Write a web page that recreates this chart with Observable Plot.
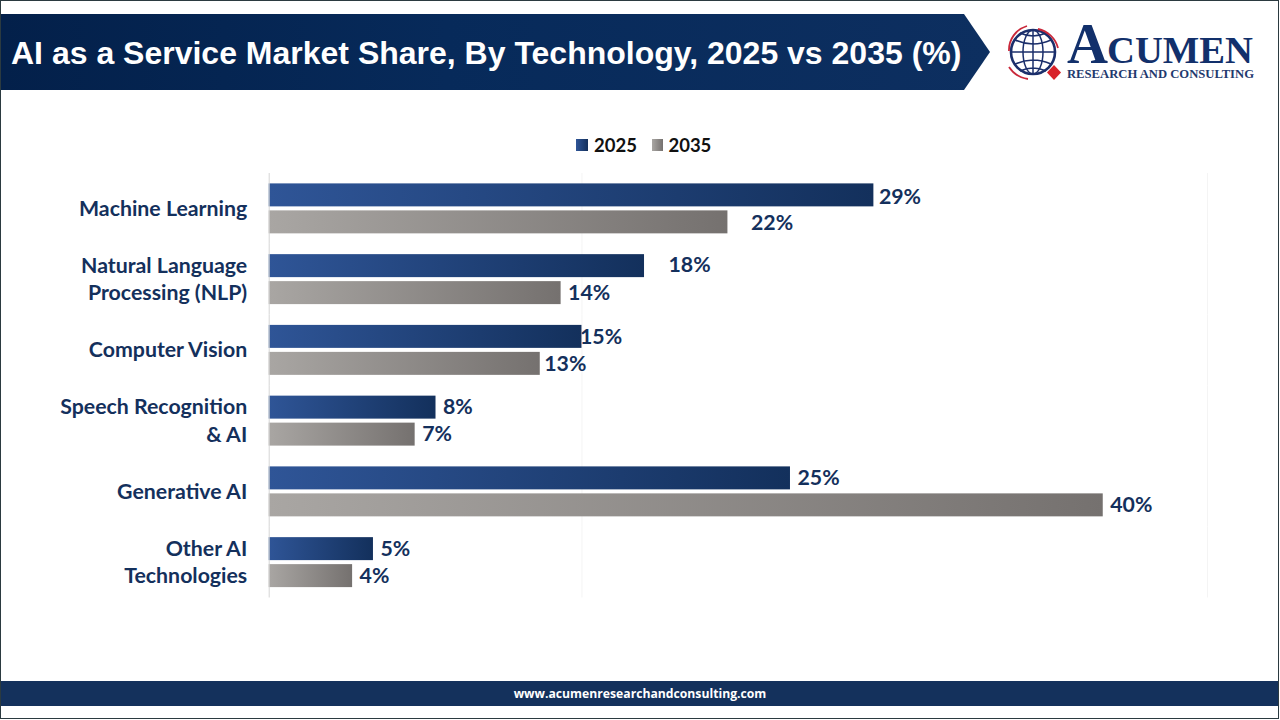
<!DOCTYPE html>
<html><head><meta charset="utf-8">
<script src="https://cdn.jsdelivr.net/npm/d3@7"></script>
<script src="https://cdn.jsdelivr.net/npm/@observablehq/plot@0.6"></script>
<style>
html,body{margin:0;padding:0;background:#fff}
#page{position:relative;width:1280px;height:720px;overflow:hidden;background:#fff;box-sizing:border-box}
#frame{position:absolute;left:0;top:0;width:1279px;height:719px;box-sizing:border-box;border:1px solid #2b3a40;border-left-width:1.5px;pointer-events:none;z-index:5}
#banner{position:absolute;left:0;top:14px}
#title{position:absolute;left:11px;top:33px;font:700 32px "Liberation Sans",Arial,sans-serif;color:#fff;white-space:nowrap;line-height:40px}
#logo{position:absolute;left:1000px;top:3px}
#legend{position:absolute;top:134px;left:576px;font:700 18.5px Lato,sans-serif;color:#111;display:flex;align-items:center;height:21px}
#legend i{display:inline-block;width:11.5px;height:12px}
#legend span{margin-right:15px}
#chart{position:absolute;left:0;top:173px}
#foot{position:absolute;left:1px;right:1px;top:681px;height:25px;background:#14315c;color:#fff;text-align:center;font:700 12.2px "Open Sans",sans-serif;line-height:25px}
</style></head><body>
<div id="page">
<svg id="banner" width="992" height="76">
<defs><linearGradient id="bg" x1="0" x2="1" y1="0" y2="0">
<stop offset="0" stop-color="#03204a"/><stop offset=".45" stop-color="#072a5a"/><stop offset="1" stop-color="#0d2f60"/></linearGradient></defs>
<polygon points="1,0 964,0 990,38 964,76 1,76" fill="url(#bg)"/>
</svg>
<div id="title">AI as a Service Market Share, By Technology, 2025 vs 2035 (%)</div>
<svg id="logo" width="270" height="87" viewBox="0 -12 270 87">
<g fill="none" stroke="#1b2f6b" stroke-width="1.5">
<circle cx="33" cy="37" r="22" stroke-width="2.6"/>
<ellipse cx="33" cy="37" rx="10" ry="22"/>
<path d="M33 15V59M11 37H55M15 25Q33 33 51 25M15 49Q33 41 51 49M20 18Q33 24 46 18M20 56Q33 50 46 56"/>
</g>
<g fill="none" stroke="#c9283a" stroke-width="1.8">
<path d="M9 36A25 25 0 0 1 27 11"/><path d="M38 14A26 26 0 0 1 58 33"/><path d="M9 52A27 27 0 0 0 28 64"/>
</g>
<polygon points="54,50 61,57.5 54,65 47,57.5" fill="#d8232a"/>
<text x="67" y="48" font-family="Liberation Serif" font-weight="700" font-size="57" fill="#12306b" textLength="41" lengthAdjust="spacingAndGlyphs">A</text>
<text x="107" y="48" font-family="Liberation Serif" font-weight="700" font-size="38" fill="#12306b" textLength="146" lengthAdjust="spacingAndGlyphs">CUMEN</text>
<text x="67" y="63" font-family="Liberation Serif" font-weight="700" font-size="12" fill="#1f3a6e" textLength="187" lengthAdjust="spacingAndGlyphs">RESEARCH AND CONSULTING</text>
</svg>
<div id="legend"><i style="background:linear-gradient(90deg,#2f5597,#14305c);margin-right:6.5px"></i><span>2025</span><i style="background:linear-gradient(90deg,#a9a6a3,#75716f);margin-right:5px"></i><span>2035</span></div>
<div id="chart"></div>
<div id="foot">www.acumenresearchandconsulting.com</div>
<div id="frame"></div>
</div>
<script>
const categories = ["Machine Learning","Natural Language\nProcessing (NLP)","Computer Vision","Speech Recognition\n& AI","Generative AI","Other AI\nTechnologies"];
const values2025 = [29,18,15,8,25,5];
const values2035 = [22,14,13,7,40,4];
const years = ["2025","2035"];
const rows = categories.flatMap((c,i)=>[
  {category:c,year:years[0],value:values2025[i]},
  {category:c,year:years[1],value:values2035[i]}
]);
const defs = () => {
  const s = d3.create("svg:defs");
  const g = (id,a,b)=>{const l=s.append("linearGradient").attr("id",id);
    l.append("stop").attr("offset",0).attr("stop-color",a);
    l.append("stop").attr("offset",1).attr("stop-color",b);};
  g("g2025","#2f5597","#13305c");
  g("g2035","#a9a6a3","#75716f");
  return s.node();
};
const labelFont = {fontFamily:"Lato, sans-serif",fontWeight:700,fontSize:21.3,fill:"#14305c"};
const labels = (test,dx,dy=0) => Plot.text(rows.filter(test),{
  fy:"category",y:"year",x:"value",text:d=>d.value+"%",textAnchor:"start",dx,dy,...labelFont});
const chart = Plot.plot({
  width:1280,height:424.5,
  marginLeft:268.7,marginRight:73,marginTop:0,marginBottom:0,
  style:{background:"transparent",overflow:"visible"},
  x:{domain:[0,45],axis:null},
  y:{domain:years,axis:null,round:false,paddingInner:4/27,paddingOuter:0.385},
  fy:{domain:categories,padding:0,round:false,axis:null,label:null},
  marks:[
    defs,
    Plot.gridX([15,45],{stroke:"#f4f4f4",strokeOpacity:1}),
    Plot.barX(rows,{fy:"category",y:"year",x:"value",fill:d=>`url(#g${d.year})`}),
    Plot.ruleX([0],{stroke:"#d5d5d5"}),
    labels(d=>![29,22,18,15,13].includes(d.value),7),
    labels(d=>d.value===29,5,2),
    labels(d=>d.value===22,23,1),
    labels(d=>d.value===18,24,-1),
    labels(d=>d.value===15,-2),
    labels(d=>d.value===13,4),
    Plot.axisFy({anchor:"left",tickSize:0,tickPadding:22,label:null,dy:-2,
      fontFamily:"Lato, sans-serif",fontWeight:700,fontSize:21.3,fill:"#14305c",lineHeight:1.3,
      textAnchor:"end"})
  ]
});
document.getElementById("chart").append(chart);
</script>
</body></html>
